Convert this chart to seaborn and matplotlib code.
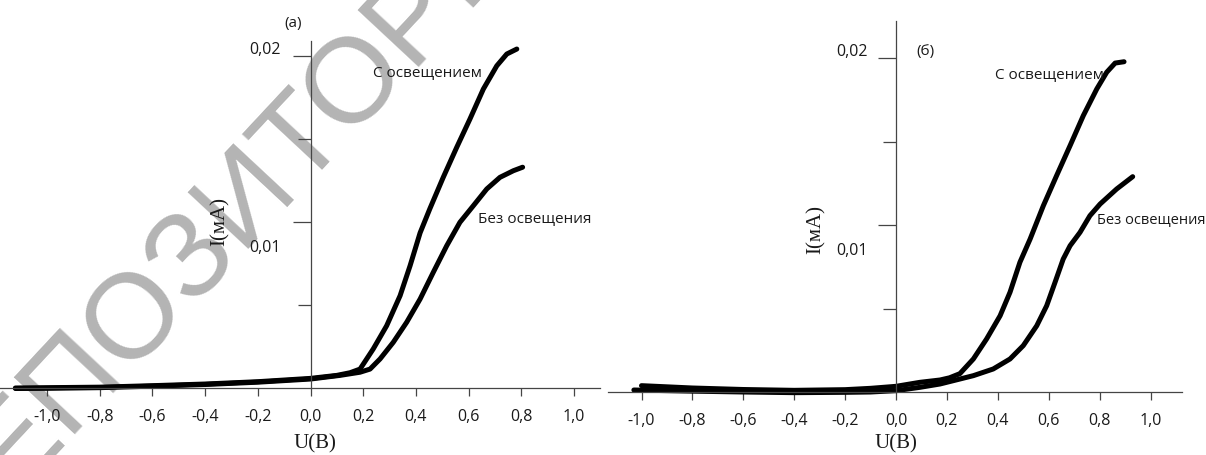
import matplotlib
matplotlib.use("Agg")
import matplotlib.pyplot as plt
import seaborn as sns

# --- panel (а): U in volts, I in mA ---
u_a_light = [-1.12, -1.0, -0.8, -0.6, -0.4, -0.2, 0.0, 0.1, 0.15, 0.188, 0.238, 0.289,
             0.34, 0.378, 0.416, 0.453, 0.504, 0.555, 0.605, 0.656, 0.707, 0.745, 0.783]
i_a_light = [0.0, 0.00002, 0.00005, 0.00014, 0.00024, 0.00038, 0.00058, 0.00076, 0.00092,
             0.00114, 0.00235, 0.00375, 0.00556, 0.00737, 0.00935, 0.0108, 0.0127,
             0.0145, 0.0162, 0.01801, 0.01941, 0.02012, 0.02042]
u_a_dark = [-1.12, -1.0, -0.8, -0.6, -0.4, -0.2, 0.0, 0.112, 0.188, 0.226, 0.264, 0.314,
            0.365, 0.416, 0.466, 0.517, 0.567, 0.618, 0.669, 0.719, 0.77, 0.805]
i_a_dark = [-0.00003, -0.00002, 0.00002, 0.00011, 0.00021, 0.00035, 0.00054, 0.00076,
            0.00095, 0.00114, 0.00175, 0.00275, 0.00396, 0.00536, 0.00697, 0.00857,
            0.00998, 0.01098, 0.01199, 0.01269, 0.01309, 0.0133]

# --- panel (б) ---
u_b_light = [-1.0, -0.8, -0.6, -0.4, -0.2, -0.1, 0.0, 0.094, 0.173, 0.21, 0.251, 0.304,
             0.356, 0.409, 0.448, 0.487, 0.527, 0.579, 0.631, 0.684, 0.736, 0.789,
             0.828, 0.861, 0.896]
i_b_light = [0.00038, 0.00024, 0.00015, 0.0001, 0.00014, 0.00022, 0.00034, 0.00058,
             0.00072, 0.00085, 0.0011, 0.00198, 0.00318, 0.00457, 0.00598, 0.00778,
             0.00917, 0.01117, 0.01297, 0.01477, 0.01657, 0.01817, 0.01917, 0.01972,
             0.0198]
u_b_dark = [-1.03, -0.8, -0.6, -0.4, -0.2, -0.1, 0.0, 0.094, 0.173, 0.304, 0.382, 0.448,
            0.5, 0.553, 0.592, 0.625, 0.657, 0.684, 0.723, 0.762, 0.802, 0.867, 0.93]
i_b_dark = [0.00012, 0.00005, 0.0, -0.00004, -0.00002, 0.0, 0.00008, 0.00028, 0.00048,
            0.00098, 0.00138, 0.00198, 0.00278, 0.00397, 0.00517, 0.00658, 0.00797,
            0.00877, 0.00957, 0.01057, 0.01127, 0.01217, 0.01291]

x_ticks = [-1.0, -0.8, -0.6, -0.4, -0.2, 0.0, 0.2, 0.4, 0.6, 0.8, 1.0]
x_tick_labels = ["-1,0", "-0,8", "-0,6", "-0,4", "-0,2", "0,0", "0,2", "0,4", "0,6", "0,8", "1,0"]
y_major = [0.01, 0.02]
y_minor = [0.005, 0.015]
y_tick_labels = ["0,01", "0,02"]

sns.set_style("white")
plt.rcParams["font.family"] = ["Open Sans", "DejaVu Sans"]

W, H = 1206, 456
fig = plt.figure(figsize=(W / 100, H / 100), dpi=100)

AX_COLOR = "#454545"
TXT_COLOR = "#1a1a1a"


def fig_text(px, py, s, **kw):
    fig.text(px / W, 1 - py / H, s, **kw)


def panel(left, right, x0, sx, y0, sy, ytop, xline, light, dark):
    ax = fig.add_axes([left / W, 0, (right - left) / W, 1])
    ax.set_facecolor("none")
    sns.lineplot(x=light[0], y=light[1], ax=ax, color="black", linewidth=3.6,
                 sort=False, estimator=None)
    sns.lineplot(x=dark[0], y=dark[1], ax=ax, color="black", linewidth=3.6,
                 sort=False, estimator=None)
    ax.set_xlim((left - x0) / sx, (right - x0) / sx)
    ax.set_ylim((y0 - H) / sy, y0 / sy)
    for side in ["top", "right"]:
        ax.spines[side].set_visible(False)
    ax.spines["left"].set_position(("data", 0))
    ax.spines["bottom"].set_position(("data", 0))
    ax.spines["left"].set_bounds(0, (y0 - ytop) / sy)
    ax.spines["bottom"].set_bounds((xline[0] - x0) / sx, (xline[1] - x0) / sx)
    for side in ["left", "bottom"]:
        ax.spines[side].set_color(AX_COLOR)
        ax.spines[side].set_linewidth(0.9)
    ax.set_xticks(x_ticks, labels=x_tick_labels)
    ax.set_yticks(y_major, labels=[])
    ax.set_yticks(y_minor, minor=True)
    ax.tick_params(axis="x", bottom=True, direction="out", length=6, width=0.9,
                   color=AX_COLOR, labelsize=11.5, labelcolor=TXT_COLOR, pad=8.5)
    ax.tick_params(axis="y", which="major", left=True, direction="out", length=13,
                   width=0.9, color=AX_COLOR)
    ax.tick_params(axis="y", which="minor", left=True, direction="out", length=9.5,
                   width=0.9, color=AX_COLOR)
    ax.set_xlabel("")
    ax.set_ylabel("")
    return ax


ax_a = panel(0, 600, 310.5, 263.5, 389, 16600, 42, (0, 600),
             (u_a_light, i_a_light), (u_a_dark, i_a_dark))
ax_b = panel(600, 1206, 896, 254.5, 393, 16680, 22, (607.7, 1181.8),
             (u_b_light, i_b_light), (u_b_dark, i_b_dark))

sans = dict(fontsize=11, color=TXT_COLOR)
ylab = dict(fontsize=11.5, color=TXT_COLOR)
serif = dict(fontsize=15, family="Liberation Serif", color=TXT_COLOR)

# panel (а) texts
fig_text(293.5, 23, "(а)", ha="center", va="center", **sans)
fig_text(265, 50, y_tick_labels[1], ha="center", va="center", **ylab)
fig_text(265, 248, y_tick_labels[0], ha="center", va="center", **ylab)
fig_text(373, 73, "С освещением", ha="left", va="center", **sans)
fig_text(478, 220, "Без освещения", ha="left", va="center", **sans)
fig_text(220, 222, "I(мА)", ha="center", va="center", rotation=90, **serif)
fig_text(315, 444, "U(В)", ha="center", va="center", **serif)

# panel (б) texts
fig_text(851.7, 52, y_tick_labels[1], ha="center", va="center", **ylab)
fig_text(851.7, 251, y_tick_labels[0], ha="center", va="center", **ylab)
fig_text(925, 52, "(б)", ha="center", va="center", **sans)
fig_text(995, 75, "С освещением", ha="left", va="center", **sans)
fig_text(1097, 221, "Без освещения", ha="left", va="center", fontsize=10.5,
         color=TXT_COLOR)
fig_text(816.5, 230, "I(мА)", ha="center", va="center", rotation=90, **serif)
fig_text(896, 444, "U(В)", ha="center", va="center", **serif)

# repository watermark
fig.text(-40.6 / W, 1 - 559.3 / H, "РЕПОЗИТОРИЙ БГПУ", rotation=47,
         rotation_mode="anchor", ha="left", va="baseline", fontsize=87,
         family=["Liberation Sans Narrow", "Liberation Sans"],
         color="#b4b4b4", zorder=-1)

fig.savefig("out.png", dpi=100)
